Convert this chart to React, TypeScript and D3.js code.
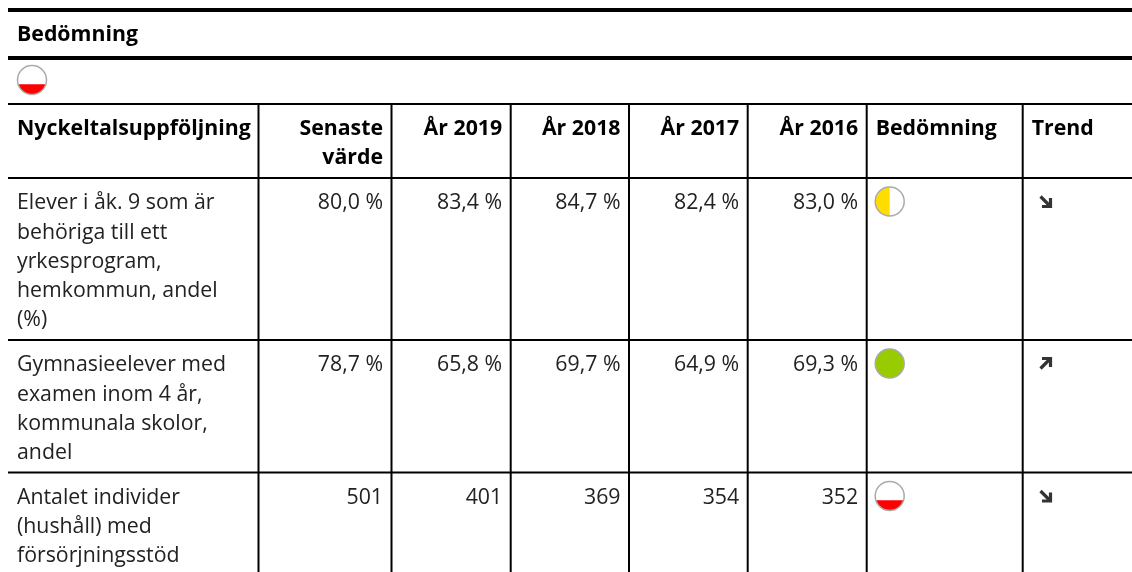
import React from "react";
import * as d3 from "d3";

const panelTitle = "Bedömning";
const columns = ["Nyckeltalsuppföljning", "Senaste värde", "År 2019", "År 2018", "År 2017", "År 2016", "Bedömning", "Trend"];
const headerLines = [["Nyckeltalsuppföljning"], ["Senaste", "värde"], ["År 2019"], ["År 2018"], ["År 2017"], ["År 2016"], ["Bedömning"], ["Trend"]];

const rowLabels = [
  ["Elever i åk. 9 som är", "behöriga till ett", "yrkesprogram,", "hemkommun, andel", "(%)"],
  ["Gymnasieelever med", "examen inom 4 år,", "kommunala skolor,", "andel"],
  ["Antalet individer", "(hushåll) med", "försörjningsstöd"],
];
const latest = ["80,0 %", "78,7 %", "501"];
const y2019 = ["83,4 %", "65,8 %", "401"];
const y2018 = ["84,7 %", "69,7 %", "369"];
const y2017 = ["82,4 %", "64,9 %", "354"];
const y2016 = ["83,0 %", "69,3 %", "352"];
const assessment = ["yellow", "green", "red"];
const trend = ["down", "up", "down"];
const overall = "red";

const width = 1132;
const height = 572;
const left = 8;

// column borders and row borders
const colEdges = [8, 258.5, 391.5, 510.7, 629, 747.7, 866.7, 1022.7, 1132];
const rowEdges = [104, 178, 340, 472.5, 572];
const font = "'Open Sans', sans-serif";
const fontSize = 21.3;
const lineH = 29.3;

const Marker = ({ cx, cy, kind }: { cx: number; cy: number; kind: string }) => {
  const r = 14.5;
  const arc = d3.arc();
  let fill = null;
  if (kind === "yellow") {
    fill = <path d={arc({ innerRadius: 0, outerRadius: r, startAngle: Math.PI, endAngle: 2 * Math.PI }) as string} fill="#ffdd00" />;
  } else if (kind === "red") {
    // bottom segment of the circle
    const h = r * 0.29;
    const dx = Math.sqrt(r * r - h * h);
    fill = <path d={`M${-dx},${h}A${r},${r} 0 0 0 ${dx},${h}Z`} fill="#ff0000" />;
  }
  return (
    <g transform={`translate(${cx},${cy})`}>
      <circle r={r} fill={kind === "green" ? "#99cc00" : "#fff"} />
      {fill}
      <circle r={r} fill="none" stroke="#aaa" strokeWidth={1.5} />
    </g>
  );
};

const Arrow = ({ cx, cy, dir }: { cx: number; cy: number; dir: string }) => (
  <g transform={`translate(${cx},${cy}) scale(1,${dir === "up" ? -1 : 1})`}>
    <path d="M-5,-5L4,4" stroke="#333" strokeWidth={3.2} fill="none" />
    <path d="M5,-3.5V5H-3.5" stroke="#333" strokeWidth={3.2} fill="none" />
  </g>
);

export default function App() {
  const numeric = [latest, y2019, y2018, y2017, y2016];
  return (
    <svg width={width} height={height} style={{ position: "fixed", left: 0, top: 0, display: "block" }} fontFamily={font} fontSize={fontSize} fill="#222">
      <rect x={left} y={8} width={width - left} height={4} fill="#000" />
      <rect x={left} y={56} width={width - left} height={4} fill="#000" />
      <text x={17} y={40.5} fontWeight={700} fill="#000">{panelTitle}</text>
      <Marker cx={32} cy={80} kind={overall} />

      {rowEdges.slice(0, 4).map((y) => (
        <line key={y} x1={left} x2={width} y1={y} y2={y} stroke="#000" strokeWidth={2} />
      ))}
      {colEdges.slice(1, -1).map((x) => (
        <line key={x} x1={x} x2={x} y1={rowEdges[0]} y2={height} stroke="#000" strokeWidth={2} />
      ))}

      {headerLines.map((lines, i) => (
        <text key={columns[i]} fontWeight={700} fill="#000" textAnchor={i >= 1 && i <= 5 ? "end" : "start"}>
          {lines.map((l, j) => (
            <tspan key={l} x={i >= 1 && i <= 5 ? colEdges[i + 1] - 8.5 : i === 0 ? 17 : colEdges[i] + 9} y={135 + j * lineH}>{l}</tspan>
          ))}
        </text>
      ))}

      {rowLabels.map((lines, r) => (
        <g key={r}>
          <text>
            {lines.map((l, j) => (
              <tspan key={l} x={17} y={rowEdges[r + 1] + 31.2 + j * lineH}>{l}</tspan>
            ))}
          </text>
          {numeric.map((col, c) => (
            <text key={c} x={colEdges[c + 2] - 8.5} y={rowEdges[r + 1] + 31.2} textAnchor="end">{col[r]}</text>
          ))}
          <Marker cx={889.7} cy={rowEdges[r + 1] + 23.5} kind={assessment[r]} />
          <Arrow cx={1045.5} cy={rowEdges[r + 1] + 23.5} dir={trend[r]} />
        </g>
      ))}
    </svg>
  );
}
